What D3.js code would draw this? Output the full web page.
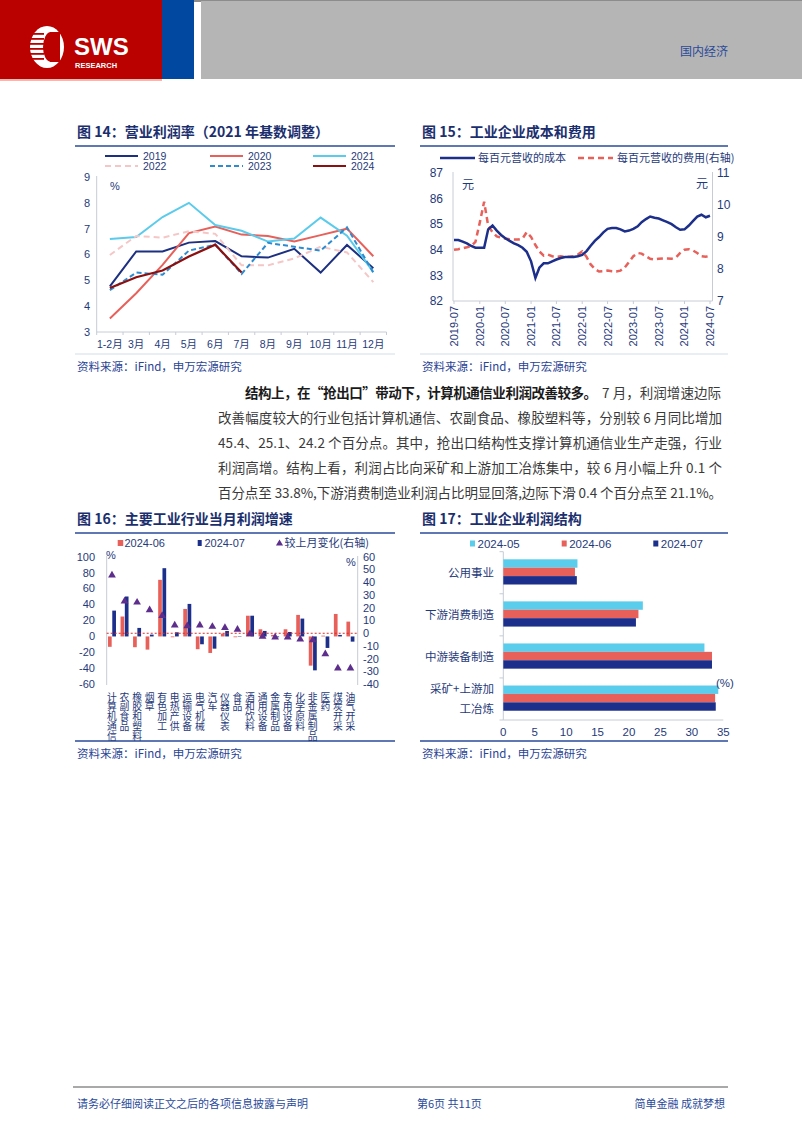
<!DOCTYPE html>
<html>
<head>
<meta charset="utf-8">
<script src="https://cdn.jsdelivr.net/npm/d3@7"></script>
<style>
    body { margin: 0; background: #fff; }
    svg { display: block; }
</style>
</head>
<body>
<svg id="page"></svg>
<script>
// ---- fig 14: 营业利润率
let months14 = ["1-2月", "3月", "4月", "5月", "6月", "7月", "8月", "9月", "10月", "11月", "12月"]
let years14 = ["2019", "2020", "2021", "2022", "2023", "2024"]
let margin2019 = [4.77, 6.12, 6.12, 6.46, 6.52, 5.93, 5.88, 6.22, 5.3, 6.37, 5.47]
let margin2020 = [3.52, 4.5, 5.6, 6.83, 7.08, 6.77, 6.72, 6.5, 6.75, 7.0, 5.93]
let margin2021 = [6.6, 6.68, 7.45, 8.0, 7.14, 6.92, 6.5, 6.62, 7.43, 6.73, 5.32]
let margin2022 = [5.98, 6.72, 6.65, 6.9, 6.8, 5.58, 5.58, 5.85, 6.3, 6.08, 4.93]
let margin2023 = [4.62, 5.3, 5.22, 6.15, 6.38, 5.25, 6.45, 6.3, 6.15, 7.05, 5.3]
let margin2024 = [4.7, 5.12, 5.38, 5.92, 6.38, 5.3]
let yTicks14 = [3, 4, 5, 6, 7, 8, 9]

// ---- fig 15: 工业企业成本和费用 (monthly, 2019-07 .. 2024-07)
let start15 = "2019-07"
let end15 = "2024-07"
let costPer100 = [
    84.38, 84.38, 84.32, 84.25, 84.15, 84.08,
    84.08, 84.08, 84.8, 84.95, 84.75, 84.58, 84.45, 84.35, 84.25, 84.18, 84.08, 83.92,
    83.55, 82.9, 83.3, 83.47, 83.47, 83.55, 83.62, 83.68, 83.72, 83.72, 83.72, 83.75,
    83.8, 83.95, 84.15, 84.35, 84.5, 84.68, 84.82, 84.85, 84.85, 84.8, 84.72, 84.75,
    84.82, 84.92, 85.08, 85.2, 85.3, 85.25, 85.22, 85.15, 85.08, 85.0, 84.88, 84.78,
    84.8, 84.95, 85.12, 85.3, 85.37, 85.27, 85.33
]
let expensePer100 = [
    8.6, 8.62, 8.65, 8.68, 8.72, 8.85,
    9.45, 10.1, 9.35, 9.15, 9.02, 8.98, 8.95, 8.93, 8.92, 8.92, 8.95, 9.15,
    9.0, 8.75, 8.55, 8.42, 8.45, 8.4, 8.38, 8.4, 8.38, 8.38, 8.4, 8.45,
    8.55, 8.38, 8.15, 8.0, 7.92, 7.93, 7.95, 7.93, 7.92, 7.95, 8.05, 8.22,
    8.4, 8.5, 8.48, 8.4, 8.32, 8.3, 8.32, 8.33, 8.33, 8.32, 8.36, 8.5,
    8.6, 8.62, 8.58, 8.5, 8.4, 8.38, 8.42
]
let leftTicks15 = [82, 83, 84, 85, 86, 87]
let rightTicks15 = [7, 8, 9, 10, 11]

// ---- fig 16: 主要工业行业当月利润增速
let industries = ["计算机通信", "农副食品", "橡胶和塑料", "烟草", "有色加工", "电热产供", "运输设备", "电气机械", "汽车", "仪器仪表",
    "食品", "酒和饮料", "通用设备", "金属制品", "专用设备", "化学原料", "非金属制品", "医药", "煤炭开采", "油气开采"]
let growthJun = [-13, 25, -13.5, -16.5, 71, -1, 34.5, -16, -20.7, 3.6, -1, 26, 9, 2, 9, 27, -36.6, 1, 28.2, 18.6]
let growthJul = [32.4, 50.1, 10.7, 2.3, 85.6, 5.2, 40.8, -9.8, -15.3, 6.9, 0.5, 26, 6.9, -1, 5.6, 22.4, -42.5, -14.4, 1.9, -6.5]
let growthChange = [45.4, 25.1, 24.2, 18.3, 13.8, 6.2, 5.7, 6.2, 5.2, 4.4, 3, -0.5, -2.6, -3.2, -3.2, -4.7, -5.2, -16.2, -27.4, -27.4]
let leftTicks16 = [-60, -40, -20, 0, 20, 40, 60, 80, 100]
let rightTicks16 = [-40, -30, -20, -10, 0, 10, 20, 30, 40, 50, 60]

// ---- fig 17: 工业企业利润结构
let sectors = ["公用事业", "下游消费制造", "中游装备制造", "采矿+上游加工冶炼"]
let share202405 = [11.8, 22.2, 32.0, 34.2]
let share202406 = [11.4, 21.5, 33.2, 33.7]
let share202407 = [11.7, 21.1, 33.2, 33.8]
let xTicks17 = [0, 5, 10, 15, 20, 25, 30, 35]

// ---- paragraph
let paraBold = "结构上，在“抢出口”带动下，计算机通信业利润改善较多。"
let paraLines = [
    "7 月，利润增速边际",
    "改善幅度较大的行业包括计算机通信、农副食品、橡胶塑料等，分别较 6 月同比增加",
    "45.4、25.1、24.2 个百分点。其中，抢出口结构性支撑计算机通信业生产走强，行业",
    "利润高增。结构上看，利润占比向采矿和上游加工冶炼集中，较 6 月小幅上升 0.1 个",
    "百分点至 33.8%,下游消费制造业利润占比明显回落,边际下滑 0.4 个百分点至 21.1%。"
]

const FONT = "'Liberation Sans', 'Noto Sans CJK SC', sans-serif"
const CJK = "'Noto Sans CJK SC', sans-serif"
const NAVY_TXT = "#1f3a7a"
const AXIS = "#c6ccd6"
const RED = "#e8605a"
const NAVY = "#1c2f8a"
const CYAN = "#5bcdec"

let svg = d3.select("#page").attr("width", 802).attr("height", 1133)
    .style("font-family", FONT)
svg.append("rect").attr("width", 802).attr("height", 1133).attr("fill", "#fff")

function drawHeader() {
    let g = svg.append("g")
    g.append("rect").attr("x", 0).attr("y", 0).attr("width", 802).attr("height", 2).attr("fill", "#8c8c8c")
    g.append("rect").attr("x", 0).attr("y", 0).attr("width", 162).attr("height", 79).attr("fill", "#bb0000")
    g.append("rect").attr("x", 162).attr("y", 0).attr("width", 32).attr("height", 79).attr("fill", "#0048a0")
    g.append("rect").attr("x", 201).attr("y", 1).attr("width", 601).attr("height", 78).attr("fill", "#b5b5b5")
    g.append("rect").attr("x", 0).attr("y", 79).attr("width", 162).attr("height", 2).attr("fill", "#f2b8b0")
    // logo emblem
    g.append("ellipse").attr("cx", 47).attr("cy", 47).attr("rx", 17).attr("ry", 21).attr("fill", "#fff")
    g.append("ellipse").attr("cx", 51).attr("cy", 47).attr("rx", 8).attr("ry", 15).attr("fill", "#bb0000")
    for (let i = 0; i < 6; i++) {
        g.append("rect").attr("x", 29).attr("y", 33 + i * 5).attr("width", 15).attr("height", 1.8).attr("fill", "#bb0000")
    }
    g.append("rect").attr("x", 50).attr("y", 32).attr("width", 10).attr("height", 30).attr("fill", "#bb0000")
    g.append("text").attr("x", 74).attr("y", 55).text("SWS")
        .attr("fill", "#fff").attr("font-size", 24).attr("font-weight", "bold")
    g.append("text").attr("x", 75).attr("y", 68).text("RESEARCH")
        .attr("fill", "#fff").attr("font-size", 7.5).attr("font-weight", "bold")
    g.append("text").attr("x", 680).attr("y", 56).text("国内经济")
        .attr("fill", "#2a4a9a").attr("font-size", 12).attr("font-family", CJK)
}

function drawFrame(x0, x1, yTitle, yBottom, title, darkBottom) {
    svg.append("text").attr("x", x0 + 2).attr("y", yTitle).text(title)
        .attr("font-size", 14).attr("font-weight", "bold").attr("fill", "#1b2f6e").attr("font-family", CJK)
    svg.append("line").attr("x1", x0).attr("x2", x1).attr("y1", yTitle + 9).attr("y2", yTitle + 9)
        .attr("stroke", "#2a4a9a").attr("stroke-width", 1.5)
    svg.append("line").attr("x1", x0).attr("x2", x1).attr("y1", yBottom).attr("y2", yBottom)
        .attr("stroke", darkBottom ? "#2a4a9a" : "#d3dcea").attr("stroke-width", darkBottom ? 1.5 : 1)
    svg.append("text").attr("x", x0 + 2).attr("y", yBottom + 17).text("资料来源：iFind，申万宏源研究")
        .attr("font-size", 11.5).attr("fill", "#2a4494").attr("font-family", CJK)
}

function drawFig14() {
    let x = d3.scalePoint().domain(months14).range([96.7, 386.5]).padding(0.5)
    let y = d3.scaleLinear().domain([3, 9]).range([332, 177])
    let g = svg.append("g")

    g.append("line").attr("x1", 96.7).attr("x2", 96.7).attr("y1", 176).attr("y2", 332).attr("stroke", AXIS)
    g.append("line").attr("x1", 96.7).attr("x2", 386.5).attr("y1", 332).attr("y2", 332).attr("stroke", AXIS)
    g.selectAll(".ytick").data(yTicks14).join("text")
        .attr("x", 90).attr("y", d => y(d)).attr("dy", "0.35em").attr("text-anchor", "end")
        .attr("font-size", 11).attr("fill", NAVY_TXT).text(d => d)
    g.selectAll(".xtick").data(months14).join("text")
        .attr("x", d => x(d)).attr("y", 348).attr("text-anchor", "middle")
        .attr("font-size", 10.5).attr("fill", NAVY_TXT).text(d => d)
    g.selectAll(".xmark").data(d3.range(months14.length + 1)).join("line")
        .attr("x1", d => 96.7 + d * x.step()).attr("x2", d => 96.7 + d * x.step())
        .attr("y1", 332).attr("y2", 335).attr("stroke", AXIS)
    g.append("text").attr("x", 110).attr("y", 190).text("%").attr("font-size", 11).attr("fill", NAVY_TXT)

    let series = [
        {name: "2019", values: margin2019, color: "#1c2f80", dash: null, width: 2},
        {name: "2020", values: margin2020, color: "#e8605a", dash: null, width: 2},
        {name: "2021", values: margin2021, color: "#5bcbeb", dash: null, width: 2},
        {name: "2022", values: margin2022, color: "#f5c6c6", dash: "6,4", width: 2},
        {name: "2023", values: margin2023, color: "#2d8cd0", dash: "5,3", width: 2},
        {name: "2024", values: margin2024, color: "#8c1010", dash: null, width: 2.2}
    ]
    let line = d3.line().x((d, i) => x(months14[i])).y(d => y(d))
    g.selectAll(".series").data(series).join("path")
        .attr("d", d => line(d.values)).attr("fill", "none")
        .attr("stroke", d => d.color).attr("stroke-width", d => d.width)
        .attr("stroke-dasharray", d => d.dash)

    let legX = [105, 210, 313]
    series.forEach((s, i) => {
        let lx = legX[i % 3]
        let ly = i < 3 ? 156 : 166
        g.append("line").attr("x1", lx).attr("x2", lx + 33).attr("y1", ly).attr("y2", ly)
            .attr("stroke", s.color).attr("stroke-width", 2).attr("stroke-dasharray", s.dash)
        g.append("text").attr("x", lx + 38).attr("y", ly).attr("dy", "0.35em").text(s.name)
            .attr("font-size", 10.5).attr("fill", NAVY_TXT)
    })
}

function drawFig15() {
    let parse = d3.timeParse("%Y-%m")
    let dates = d3.timeMonth.range(parse(start15), d3.timeMonth.offset(parse(end15), 1))
    let x = d3.scaleTime().domain([parse(start15), parse(end15)]).range([454, 710])
    let yL = d3.scaleLinear().domain([82, 87]).range([301, 173])
    let yR = d3.scaleLinear().domain([7, 11]).range([301, 173])
    let g = svg.append("g")

    g.append("line").attr("x1", 453).attr("x2", 453).attr("y1", 172).attr("y2", 301).attr("stroke", AXIS)
    g.append("line").attr("x1", 712.5).attr("x2", 712.5).attr("y1", 172).attr("y2", 301).attr("stroke", AXIS)
    g.append("line").attr("x1", 453).attr("x2", 712.5).attr("y1", 301).attr("y2", 301).attr("stroke", AXIS)

    g.selectAll(".yl").data(leftTicks15).join("text")
        .attr("x", 443).attr("y", d => yL(d)).attr("dy", "0.35em").attr("text-anchor", "end")
        .attr("font-size", 12).attr("fill", NAVY_TXT).text(d => d)
    g.selectAll(".yr").data(rightTicks15).join("text")
        .attr("x", 717).attr("y", d => yR(d)).attr("dy", "0.35em")
        .attr("font-size", 12).attr("fill", NAVY_TXT).text(d => d)

    let tickDates = dates.filter(d => d.getMonth() === 0 || d.getMonth() === 6)
    g.selectAll(".xmark").data(tickDates).join("line")
        .attr("x1", d => x(d)).attr("x2", d => x(d)).attr("y1", 301).attr("y2", 304).attr("stroke", AXIS)
    g.selectAll(".xlab").data(tickDates).join("text")
        .attr("transform", d => `translate(${x(d) + 4},306) rotate(-90)`)
        .attr("text-anchor", "end").attr("font-size", 11).attr("fill", NAVY_TXT)
        .text(d3.timeFormat("%Y-%m"))

    g.append("text").attr("x", 462).attr("y", 189).text("元").attr("font-size", 12).attr("fill", NAVY_TXT).attr("font-family", CJK)
    g.append("text").attr("x", 696).attr("y", 188).text("元").attr("font-size", 12).attr("fill", NAVY_TXT).attr("font-family", CJK)

    let lineL = d3.line().x((d, i) => x(dates[i])).y(d => yL(d))
    let lineR = d3.line().x((d, i) => x(dates[i])).y(d => yR(d))
    g.append("path").attr("d", lineR(expensePer100)).attr("fill", "none")
        .attr("stroke", "#e8605a").attr("stroke-width", 2.5).attr("stroke-dasharray", "6,4")
    g.append("path").attr("d", lineL(costPer100)).attr("fill", "none")
        .attr("stroke", "#1c2f8a").attr("stroke-width", 2.5)

    g.append("line").attr("x1", 440).attr("x2", 475).attr("y1", 158).attr("y2", 158)
        .attr("stroke", "#1c2f8a").attr("stroke-width", 2.5)
    g.append("text").attr("x", 478).attr("y", 158).attr("dy", "0.35em").text("每百元营收的成本")
        .attr("font-size", 11).attr("fill", NAVY_TXT).attr("font-family", CJK)
    g.append("line").attr("x1", 578).attr("x2", 613).attr("y1", 158).attr("y2", 158)
        .attr("stroke", "#e8605a").attr("stroke-width", 2.5).attr("stroke-dasharray", "6,4")
    g.append("text").attr("x", 617).attr("y", 158).attr("dy", "0.35em").text("每百元营收的费用(右轴)")
        .attr("font-size", 11).attr("fill", NAVY_TXT).attr("font-family", CJK)
}

function drawParagraph() {
    let g = svg.append("g").attr("font-family", CJK).attr("font-size", 13.5)
    g.append("text").attr("x", 245).attr("y", 398).text(paraBold)
        .attr("font-weight", "bold").attr("fill", "#1a1a1a")
        .attr("textLength", 352).attr("lengthAdjust", "spacing")
    g.append("text").attr("x", 602).attr("y", 398).text(paraLines[0]).attr("fill", "#3a3a3a")
        .attr("textLength", 119).attr("lengthAdjust", "spacing")
    paraLines.slice(1).forEach((t, i) => {
        g.append("text").attr("x", 218).attr("y", 423 + i * 25).text(t).attr("fill", "#3a3a3a")
            .attr("textLength", 504).attr("lengthAdjust", "spacing")
    })
}

function drawFig16() {
    let x = d3.scaleBand().domain(industries).range([106.7, 357.7])
    let yL = d3.scaleLinear().domain([-60, 100]).range([684.3, 556.7])
    let yR = d3.scaleLinear().domain([-40, 60]).range([684.3, 556.7])
    let g = svg.append("g")

    g.append("line").attr("x1", 106.7).attr("x2", 106.7).attr("y1", 556).attr("y2", 685).attr("stroke", AXIS)
    g.append("line").attr("x1", 357.7).attr("x2", 357.7).attr("y1", 556).attr("y2", 685).attr("stroke", AXIS)
    g.selectAll(".yl").data(leftTicks16).join("text")
        .attr("x", 95).attr("y", d => yL(d)).attr("dy", "0.35em").attr("text-anchor", "end")
        .attr("font-size", 11).attr("fill", NAVY_TXT).text(d => d)
    g.selectAll(".yr").data(rightTicks16).join("text")
        .attr("x", 363).attr("y", d => yR(d)).attr("dy", "0.35em")
        .attr("font-size", 11).attr("fill", NAVY_TXT).text(d => d)
    g.append("text").attr("x", 106).attr("y", 559).text("%").attr("font-size", 11).attr("fill", NAVY_TXT)
    g.append("text").attr("x", 346).attr("y", 566).text("%").attr("font-size", 11).attr("fill", NAVY_TXT)

    let c = d => x(d) + x.bandwidth() / 2 - 1
    g.selectAll(".jun").data(industries).join("rect")
        .attr("x", d => c(d) - 4).attr("width", 3.7)
        .attr("y", (d, i) => yL(Math.max(0, growthJun[i])))
        .attr("height", (d, i) => Math.abs(yL(growthJun[i]) - yL(0)))
        .attr("fill", RED)
    g.selectAll(".jul").data(industries).join("rect")
        .attr("x", d => c(d) + 0.3).attr("width", 3.7)
        .attr("y", (d, i) => yL(Math.max(0, growthJul[i])))
        .attr("height", (d, i) => Math.abs(yL(growthJul[i]) - yL(0)))
        .attr("fill", NAVY)
    g.append("line").attr("x1", 106.7).attr("x2", 357.7).attr("y1", yR(0)).attr("y2", yR(0))
        .attr("stroke", "#e02828").attr("stroke-width", 1).attr("stroke-dasharray", "2,2")
    let tri = d3.symbol().type(d3.symbolTriangle).size(26)
    g.selectAll(".chg").data(industries).join("path")
        .attr("d", tri).attr("transform", (d, i) => `translate(${c(d)},${yR(growthChange[i])})`)
        .attr("fill", "#5d2e8c")

    // vertical category labels, one text per label
    g.selectAll(".cat").data(industries).join("text")
        .attr("x", d => c(d)).attr("y", 692)
        .style("writing-mode", "vertical-rl").style("text-orientation", "upright")
        .attr("font-size", 9.8).attr("fill", NAVY_TXT).attr("font-family", CJK).text(d => d)

    g.append("rect").attr("x", 117.7).attr("y", 540).attr("width", 5.5).attr("height", 6).attr("fill", RED)
    g.append("text").attr("x", 124.5).attr("y", 543).attr("dy", "0.35em").text("2024-06").attr("font-size", 11).attr("fill", NAVY_TXT)
    g.append("rect").attr("x", 197.7).attr("y", 540).attr("width", 4).attr("height", 6).attr("fill", NAVY)
    g.append("text").attr("x", 204.5).attr("y", 543).attr("dy", "0.35em").text("2024-07").attr("font-size", 11).attr("fill", NAVY_TXT)
    g.append("path").attr("d", d3.symbol().type(d3.symbolTriangle).size(22)).attr("transform", "translate(279.5,543.5)").attr("fill", "#5d2e8c")
    g.append("text").attr("x", 284.5).attr("y", 543).attr("dy", "0.35em").text("较上月变化(右轴)")
        .attr("font-size", 11).attr("fill", NAVY_TXT).attr("font-family", CJK)
}

function drawFig17() {
    let x = d3.scaleLinear().domain([0, 35]).range([503.3, 723.3])
    let y = d3.scaleBand().domain(sectors).range([551.7, 720])
    let g = svg.append("g")

    g.append("line").attr("x1", 503.3).attr("x2", 503.3).attr("y1", 551.7).attr("y2", 720).attr("stroke", AXIS)
    g.append("line").attr("x1", 503.3).attr("x2", 723.3).attr("y1", 720).attr("y2", 720).attr("stroke", AXIS)
    g.selectAll(".ymark").data(d3.range(sectors.length + 1)).join("line")
        .attr("x1", 499.5).attr("x2", 503.3)
        .attr("y1", d => 551.7 + d * y.step()).attr("y2", d => 551.7 + d * y.step()).attr("stroke", AXIS)
    g.selectAll(".xt").data(xTicks17).join("text")
        .attr("x", d => x(d)).attr("y", 732).attr("dy", "0.35em").attr("text-anchor", "middle")
        .attr("font-size", 11.5).attr("fill", NAVY_TXT).text(d => d)

    let series = [
        {values: share202405, color: CYAN},
        {values: share202406, color: RED},
        {values: share202407, color: NAVY}
    ]
    series.forEach((s, k) => {
        g.selectAll(null).data(sectors).join("rect")
            .attr("x", x(0)).attr("y", d => y(d) + 7.6 + k * 8.4)
            .attr("width", (d, i) => x(s.values[i]) - x(0)).attr("height", 8.4)
            .attr("fill", s.color)
    })

    let labelLines = {"采矿+上游加工冶炼": ["采矿+上游加", "工冶炼"]}
    sectors.forEach(name => {
        let lines = labelLines[name] || [name]
        let mid = y(name) + y.bandwidth() / 2
        lines.forEach((t, i) => {
            g.append("text").attr("x", 494).attr("text-anchor", "end")
                .attr("y", lines.length === 1 ? mid : mid - 10 + i * 20).attr("dy", "0.35em")
                .attr("font-size", 11.5).attr("fill", NAVY_TXT).attr("font-family", CJK).text(t)
        })
    })
    g.append("text").attr("x", 716).attr("y", 683).attr("dy", "0.35em").text("(%)")
        .attr("font-size", 11.5).attr("fill", NAVY_TXT)

    let leg = [{label: "2024-05", color: CYAN, x: 470}, {label: "2024-06", color: RED, x: 561.7}, {label: "2024-07", color: NAVY, x: 653.3}]
    leg.forEach(l => {
        g.append("rect").attr("x", l.x).attr("y", 540.5).attr("width", 5).attr("height", 6).attr("fill", l.color)
        g.append("text").attr("x", l.x + 7.5).attr("y", 543.5).attr("dy", "0.35em").text(l.label)
            .attr("font-size", 11.5).attr("fill", NAVY_TXT)
    })
}

function drawFooter() {
    svg.append("line").attr("x1", 73).attr("x2", 728).attr("y1", 1087).attr("y2", 1087)
        .attr("stroke", "#8c8c8c").attr("stroke-width", 1.5)
    let g = svg.append("g").attr("font-family", CJK).attr("font-size", 11).attr("fill", "#2a4a9a")
    g.append("text").attr("x", 77).attr("y", 1104).attr("dy", "0.35em").text("请务必仔细阅读正文之后的各项信息披露与声明")
    g.append("text").attr("x", 417).attr("y", 1104).attr("dy", "0.35em").text("第6页 共11页")
    g.append("text").attr("x", 725).attr("y", 1104).attr("dy", "0.35em").attr("text-anchor", "end").text("简单金融 成就梦想")
}

drawHeader()
drawFrame(75, 395, 137, 354, "图 14：营业利润率（2021 年基数调整）", false)
drawFrame(420, 728, 137, 354, "图 15：工业企业成本和费用", false)
drawFrame(75, 395, 524, 741, "图 16：主要工业行业当月利润增速", true)
drawFrame(420, 728, 524, 741, "图 17：工业企业利润结构", true)
drawFig14()
drawFig15()
drawParagraph()
drawFig16()
drawFig17()
drawFooter()
</script>
</body>
</html>
